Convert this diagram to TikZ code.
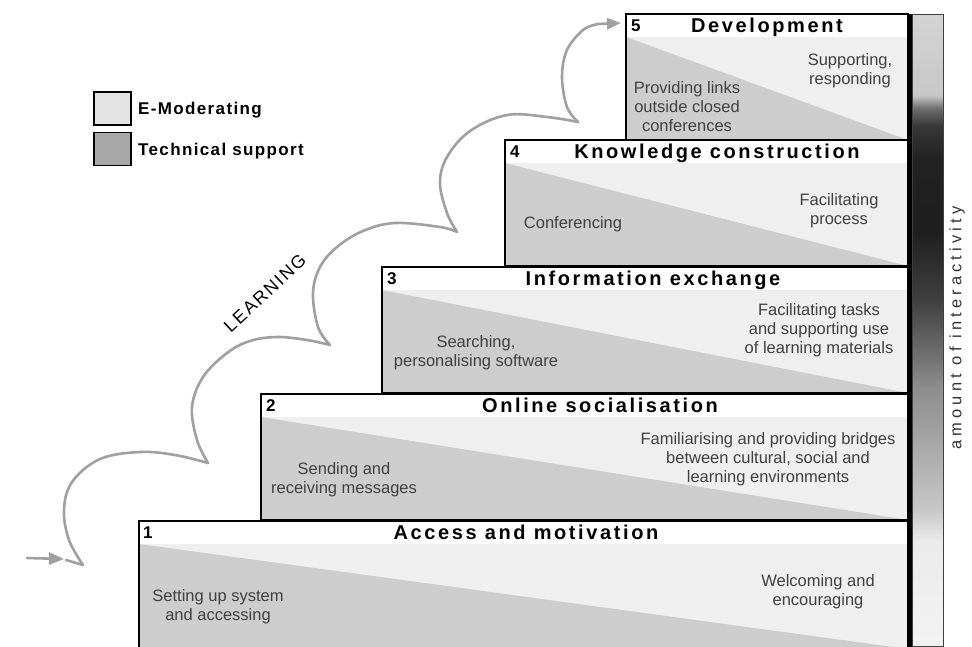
\documentclass[tikz,border=0pt]{standalone}
\usepackage{fontspec}
\setmainfont{Liberation Sans}
\newfontfamily\titlefont[LetterSpace=13]{Liberation Sans}
\newfontfamily\legfont[LetterSpace=8]{Liberation Sans}
\newfontfamily\learnfont[LetterSpace=10]{Liberation Sans}
\newfontfamily\widespaced[LetterSpace=25]{Liberation Sans}
\usetikzlibrary{arrows.meta,calc}
\definecolor{emod}{HTML}{EFEFEF}
\definecolor{tsup}{HTML}{CDCDCD}
\definecolor{legl}{HTML}{E4E4E4}
\definecolor{legd}{HTML}{A8A8A8}
\definecolor{txt}{HTML}{404040}
\definecolor{curvecol}{HTML}{A0A0A0}
\pgfdeclareverticalshading{interact}{100bp}{color(0bp)=(black!5); color(25bp)=(black!5); color(33.4bp)=(black!8); color(35.8bp)=(black!22); color(39.5bp)=(black!31); color(45.5bp)=(black!45); color(52.4bp)=(black!75); color(57.9bp)=(black!88); color(63.5bp)=(black!87); color(66.2bp)=(black!78); color(67.6bp)=(black!56); color(68.6bp)=(black!22); color(75bp)=(black!17); color(100bp)=(black!17)}
\tikzset{
  stepbox/.style={draw=black, line width=1.2pt, fill=emod, anchor=north west,
    minimum height=126pt, inner sep=0pt, outer sep=0pt,
    path picture={
      \fill[tsup] ([yshift=-23pt]path picture bounding box.north west) -- (path picture bounding box.south east) -- (path picture bounding box.south west) -- cycle;
      \fill[white] (path picture bounding box.north west) rectangle ([yshift=-23pt]path picture bounding box.north east);
    }},
  steptext/.style={font=\fontsize{16.5}{19}\selectfont, text=txt, align=center, inner sep=0pt},
  titletext/.style={font=\fontsize{20}{22}\titlefont\bfseries, anchor=base, inner sep=0pt},
  numtext/.style={font=\fontsize{17}{19}\selectfont\bfseries, anchor=base west, inner sep=0pt},
  legbox/.style={draw=black, line width=1.5pt, minimum width=37pt, minimum height=33pt, inner sep=0pt},
  legtext/.style={font=\fontsize{17}{19}\legfont\bfseries, anchor=base west, inner sep=0pt},
  curvy/.style={draw=curvecol, line width=2.6pt, line cap=round, line join=round},
}
\begin{document}
\begin{tikzpicture}[x=1pt, y=-1pt]
\useasboundingbox (0,0) rectangle (972,646);
\fill[white] (0,0) rectangle (972,646);

% legend
\node[legbox, fill=legl] (lb1) at (112.5,108.5) {};
\node[legbox, fill=legd] (lb2) at (112.5,149) {};
\node[legtext] (lt1) at (138,114.6) {E-Moderating};
\node[legtext] (lt2) at (138,155) {Technical support};

% steps
\node[stepbox, minimum width=282pt] (s5) at (626,14) {};
\node[stepbox, minimum width=403pt] (s4) at (505,140) {};
\node[stepbox, minimum width=526pt] (s3) at (382,267) {};
\node[stepbox, minimum width=647pt] (s2) at (261,394) {};
\node[stepbox, minimum width=769pt, minimum height=128pt] (s1) at (139,521) {};

% numbers
\node[numtext] (n5) at (631,31.6) {5};
\node[numtext] (n4) at (510,157.6) {4};
\node[numtext] (n3) at (387,284.6) {3};
\node[numtext] (n2) at (266,411.6) {2};
\node[numtext] (n1) at (143,538.6) {1};

% titles
\node[titletext] (t5) at (767,32.7) {Development};
\node[titletext] (t4) at (717,158.7) {Knowledge construction};
\node[titletext] (t3) at (653,285.7) {Information exchange};
\node[titletext] (t2) at (600,412.7) {Online socialisation};
\node[titletext] (t1) at (526,539.7) {Access and motivation};

% texts
\node[steptext] (a5) at (687,107) {Providing links\\outside closed\\conferences};
\node[steptext] (b5) at (850,71) {Supporting,\\responding};
\node[steptext] (a4) at (573,224) {Conferencing};
\node[steptext] (b4) at (839,211) {Facilitating\\process};
\node[steptext] (a3) at (476,353) {Searching,\\personalising software};
\node[steptext] (b3) at (819,330) {Facilitating tasks\\and supporting use\\of learning materials};
\node[steptext] (a2) at (344,480) {Sending and\\receiving messages};
\node[steptext] (b2) at (768,459) {Familiarising and providing bridges\\between cultural, social and\\learning environments};
\node[steptext] (a1) at (218,607) {Setting up system\\and accessing};
\node[steptext] (b1) at (818,592) {Welcoming and\\encouraging};

% interactivity bar
\node[draw=black!75, line width=0.8pt, shading=interact, minimum width=31pt, minimum height=632pt, inner sep=0pt, anchor=north west] (bar) at (912,14) {};
\draw[line width=5pt] ([xshift=-2.5pt]bar.north west) -- ([xshift=-2.5pt]bar.south west);
\node[rotate=90, font=\fontsize{16.5}{18}\widespaced, text=black!80] (amt) at (957,328) {amount of interactivity};

% learning path
\coordinate (astart) at (27,558);
\coordinate (c0) at (83,565);
\coordinate (c1) at (208,463);
\coordinate (c2) at (330,345);
\coordinate (c3) at (457,232);
\coordinate (c4) at (578,122);
\coordinate (aend) at (621,23);
\draw[curvy, -{Triangle[length=15pt,width=12pt]}] (astart) -- (64,559);
\draw[curvy] (66,560) -- (c0);
\draw[curvy] plot[smooth, tension=0.6] coordinates {(c0) (69,540) (64,510) (72,482) (100,459) (140,452) (175,455) (c1)};
\draw[curvy] plot[smooth, tension=0.6] coordinates {(c1) (197,440) (192,407) (203,377) (227,353) (250,341) (277,337) (307,340) (c2)};
\draw[curvy] plot[smooth, tension=0.6] coordinates {(c2) (318,327) (313,293) (320,267) (337,247) (363,231) (395,223) (440,227) (c3)};
\draw[curvy] plot[smooth, tension=0.6] coordinates {(c3) (447,213) (440,183) (447,157) (470,131) (507,115) (547,117) (c4)};
\draw[curvy] plot[smooth, tension=0.6] coordinates {(c4) (567,107) (562,77) (567,50) (583,30) (598,24)};
\draw[curvy, -{Triangle[length=14pt,width=11pt]}] (598,24) -- (aend);
\node[rotate=43, font=\fontsize{18}{20}\learnfont] (learn) at (265,293) {LEARNING};
\end{tikzpicture}
\end{document}
